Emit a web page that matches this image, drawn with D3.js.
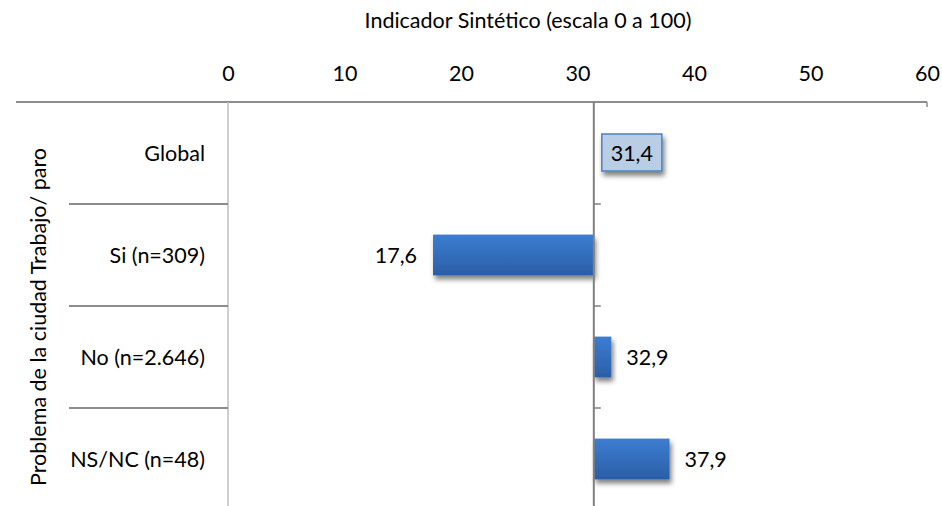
<!DOCTYPE html>
<html>
<head>
<meta charset="UTF-8">
<script src="https://d3js.org/d3.v7.min.js"></script>
<style>
  body { margin: 0; background: #fff; }
  svg { display: block; font-family: "Lato", "Open Sans", sans-serif; }
</style>
</head>
<body>
<script>
var categories = ["Global", "Si (n=309)", "No (n=2.646)", "NS/NC (n=48)"];
var values = [31.4, 17.6, 32.9, 37.9];
var labels = ["31,4", "17,6", "32,9", "37,9"];
var baseline = 31.4;
var ticks = [0, 10, 20, 30, 40, 50, 60];

var width = 942, height = 506;
var plotLeft = 228, plotRight = 927, plotTop = 102, plotBottom = 510;
var fs = "21.5px";

var svg = d3.select("body").append("svg")
  .attr("width", width).attr("height", height);

var defs = svg.append("defs");
var grad = defs.append("linearGradient").attr("id", "barGrad")
  .attr("x1", 0).attr("y1", 0).attr("x2", 0).attr("y2", 1);
grad.append("stop").attr("offset", "0%").attr("stop-color", "#3c7dd2");
grad.append("stop").attr("offset", "100%").attr("stop-color", "#2b5ea6");
var shadow = defs.append("filter").attr("id", "shadow")
  .attr("x", "-20%").attr("y", "-20%").attr("width", "150%").attr("height", "180%");
shadow.append("feDropShadow").attr("dx", 2).attr("dy", 4).attr("stdDeviation", 2.5)
  .attr("flood-color", "#000").attr("flood-opacity", 0.5);

var x = d3.scaleLinear().domain([0, 60]).range([plotLeft, plotRight]);
var y = d3.scaleBand().domain(categories).range([plotTop, plotBottom]).paddingInner(0.6).paddingOuter(0.3);
var band = d3.scaleBand().domain(categories).range([plotTop, plotBottom]);

// title
svg.append("text").attr("x", 528).attr("y", 28).attr("text-anchor", "middle")
  .style("font-size", fs).attr("fill", "#000")
  .text("Indicador Sintético (escala 0 a 100)");

// top axis
var axis = svg.append("g").attr("transform", "translate(0," + plotTop + ")")
  .call(d3.axisTop(x).tickValues(ticks).tickSize(0).tickPadding(21));
axis.select(".domain").remove();
axis.selectAll("text").style("font-size", fs).attr("fill", "#000")
  .style("font-family", "Lato, sans-serif");

svg.append("line").attr("x1", 16).attr("x2", plotRight).attr("y1", plotTop).attr("y2", plotTop)
  .attr("stroke", "#8c8c8c").attr("stroke-width", 2);
svg.append("line").attr("x1", plotRight).attr("x2", plotRight).attr("y1", plotTop).attr("y2", plotTop + 5)
  .attr("stroke", "#8c8c8c").attr("stroke-width", 1.5);
svg.append("line").attr("x1", plotLeft).attr("x2", plotLeft).attr("y1", plotTop).attr("y2", plotBottom)
  .attr("stroke", "#bfbfbf").attr("stroke-width", 1.5);

// category dividers
svg.selectAll("line.div").data(categories.slice(1)).enter().append("line")
  .attr("class", "div")
  .attr("x1", 69).attr("x2", plotLeft)
  .attr("y1", function(d) { return band(d); })
  .attr("y2", function(d) { return band(d); })
  .attr("stroke", "#8c8c8c").attr("stroke-width", 2);

// category labels
svg.selectAll("text.cat").data(categories).enter().append("text")
  .attr("class", "cat")
  .attr("x", 205)
  .attr("y", function(d) { return band(d) + band.bandwidth() / 2 + 8; })
  .attr("text-anchor", "end")
  .style("font-size", fs)
  .text(function(d) { return d; });

// y axis title
svg.append("text")
  .attr("transform", "translate(46," + 317 + ") rotate(-90)")
  .attr("text-anchor", "middle")
  .style("font-size", fs)
  .text("Problema de la ciudad Trabajo/ paro");

// bars
svg.selectAll("rect.bar").data(values).enter().append("rect")
  .attr("class", "bar")
  .attr("x", function(d) { return Math.min(x(d), x(baseline)); })
  .attr("y", function(d, i) { return y(categories[i]); })
  .attr("width", function(d) { return Math.abs(x(d) - x(baseline)); })
  .attr("height", y.bandwidth())
  .attr("fill", "url(#barGrad)")
  .attr("filter", "url(#shadow)");

// baseline axis
svg.append("line").attr("x1", x(baseline)).attr("x2", x(baseline))
  .attr("y1", plotTop).attr("y2", plotBottom).attr("stroke", "#808080").attr("stroke-width", 2);
svg.selectAll("line.btick").data(categories.slice(1)).enter().append("line")
  .attr("class", "btick")
  .attr("x1", x(baseline)).attr("x2", x(baseline) + 7)
  .attr("y1", function(d) { return band(d); })
  .attr("y2", function(d) { return band(d); })
  .attr("stroke", "#808080").attr("stroke-width", 1.5);

// value labels
values.forEach(function(v, i) {
  var cy = band(categories[i]) + band.bandwidth() / 2;
  if (i === 0) {
    var g = svg.append("g");
    g.append("rect").attr("x", x(v) + 8).attr("y", cy - 19).attr("width", 60).attr("height", 37)
      .attr("fill", "#b9cde5").attr("stroke", "#4f81bd").attr("stroke-width", 1.5)
      .attr("filter", "url(#shadow)");
    g.append("text").attr("x", x(v) + 38).attr("y", cy + 8).attr("text-anchor", "middle")
      .style("font-size", fs).text(labels[i]);
  } else if (v < baseline) {
    svg.append("text").attr("x", x(v) - 16).attr("y", cy + 8).attr("text-anchor", "end")
      .style("font-size", fs).text(labels[i]);
  } else {
    svg.append("text").attr("x", x(v) + 15).attr("y", cy + 8).attr("text-anchor", "start")
      .style("font-size", fs).text(labels[i]);
  }
});
</script>
</body>
</html>
